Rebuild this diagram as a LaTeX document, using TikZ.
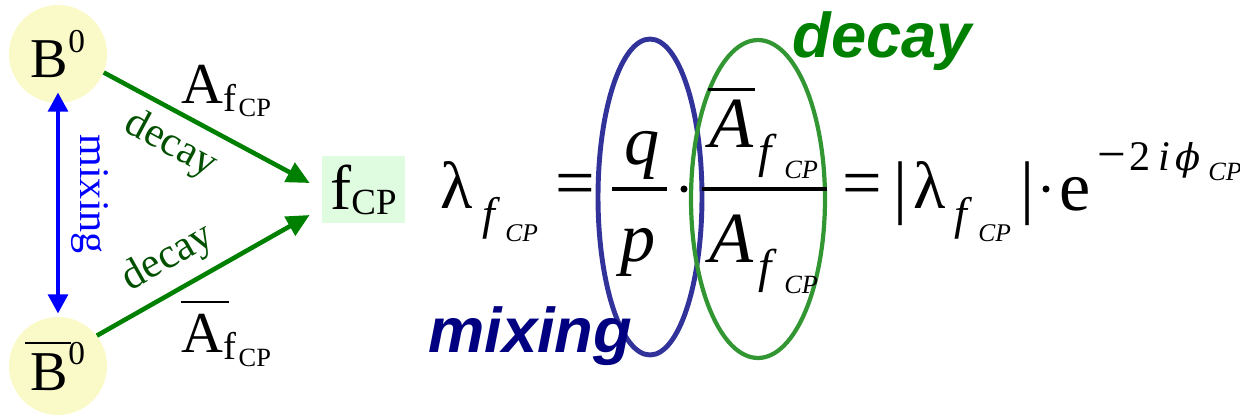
\documentclass[tikz,border=0pt]{standalone}
\usepackage{fontspec}
\setmainfont{Liberation Serif}
\newfontfamily\headfont{Liberation Sans}
\newfontfamily\phifont{DejaVu Serif}
\usetikzlibrary{arrows.meta,positioning}

\definecolor{stateyellow}{RGB}{250,250,200}
\definecolor{finalgreen}{RGB}{224,252,224}
\definecolor{arrowgreen}{RGB}{0,128,0}
\definecolor{labelgreen}{RGB}{0,80,0}
\definecolor{mixblue}{RGB}{0,0,255}
\definecolor{ringblue}{RGB}{50,50,155}
\definecolor{ringgreen}{RGB}{50,150,50}
\definecolor{headnavy}{RGB}{0,0,128}

\newcommand*{\fsz}[1]{\fontsize{#1}{#1}\selectfont}

\begin{document}
\begin{tikzpicture}[
  x=0.02cm, y=-0.02cm,
  state node/.style={circle, fill=stateyellow, minimum size=1.96cm, inner sep=0pt},
  final node/.style={fill=finalgreen, minimum width=1.66cm, minimum height=1.34cm, inner sep=0pt},
  decay arrow/.style={-{Triangle[length=13pt,width=12pt]}, line width=2.6pt, draw=arrowgreen},
  mix arrow/.style={{Triangle[length=11pt,width=11pt]}-{Triangle[length=11pt,width=11pt]},
    line width=2.8pt, draw=mixblue},
  path label/.style={sloped, text=labelgreen, font={\fsz{24pt}}, inner sep=6pt},
  eq/.style={anchor=base west, inner sep=0pt},
  frac bar/.style={line width=2pt},
  head/.style={eq, font={\headfont\bfseries\itshape\fsz{36pt}}},
]
  \useasboundingbox (0,0) rectangle (1240,417);

  % States and final state
  \node[state node] (b0) at (58,54) {\fsz{32pt}B\raisebox{14.5pt}{\fsz{19pt}0}};
  \node[state node] (b0bar) at (58,366)
    {\fsz{32pt}\makebox[0pt][l]{\hspace{-3.4pt}\rule[26.5pt]{26pt}{1.1pt}}B\raisebox{14.5pt}{\fsz{19pt}0}};
  \node[final node] (fcp) at (363.5,189.5) {\fsz{36pt}f\raisebox{-2.8pt}{\fsz{21pt}CP}};

  % Decay and mixing arrows
  \draw[decay arrow] (b0.-22) -- ([shift={(-12,-6.5)}]fcp.west)
    node[path label, below, pos=0.4] (decaytop) {decay};
  \draw[decay arrow] (b0bar.38) -- ([shift={(-12,25.5)}]fcp.west)
    node[path label, above, pos=0.41] (decaybot) {decay};
  \draw[mix arrow] ([yshift=0.22cm]b0.south) -- ([yshift=0.06cm]b0bar.north)
    node[pos=0.46, sloped, above, text=mixblue, font={\fsz{24pt}}, inner sep=6.5pt] (mixlabel) {mixing};

  % Amplitudes
  \node[eq] (amp) at (181,103)
    {\fsz{33pt}A\raisebox{-5.1pt}{\fsz{22pt}f\kern1.5pt\raisebox{-2.8pt}{\fsz{15pt}CP}}};
  \node[eq] (ampbar) at (181,352)
    {\fsz{33pt}\makebox[0pt][l]{\rule[28pt]{27pt}{0.9pt}}A\raisebox{-4.5pt}{\fsz{22pt}f\kern1.5pt\raisebox{-4pt}{\fsz{15pt}CP}}};

  % Rings round the two factors
  \draw[draw=ringblue, line width=2.8pt] (650,197) ellipse [x radius=1.04cm, y radius=3.16cm];
  \draw[draw=ringgreen, line width=2.4pt] (758,199) ellipse [x radius=1.34cm, y radius=3.18cm];

  % lambda_f = q/p . Abar/A
  \node[eq] (lamA) at (440,208) {\fsz{38pt}λ};
  \node[eq] (lamAf) at (482,229) {\fsz{26pt}\itshape f};
  \node[eq] (lamAcp) at (505,241) {\fsz{14.5pt}\itshape CP};
  \node[eq] (eqA) at (555,206) {\fsz{40pt}=};

  \node[eq] (qnum) at (624,164) {\fsz{40pt}\itshape q};
  \node[eq] (pden) at (620,261) {\fsz{40pt}\itshape p};
  \draw[frac bar] (612,189) -- (667,189);
  \fill (684,189) circle (2pt);

  \node[eq] (anum) at (709,147)
    {\fsz{41pt}\itshape\makebox[0pt][l]{\hspace{-0.5pt}\rule[32pt]{26.6pt}{1.7pt}}A};
  \node[eq] (anumf) at (758,167) {\fsz{27pt}\itshape f};
  \node[eq] (anumcp) at (784,178) {\fsz{15pt}\itshape CP};
  \node[eq] (aden) at (709,262) {\fsz{41pt}\itshape A};
  \node[eq] (adenf) at (758,282) {\fsz{27pt}\itshape f};
  \node[eq] (adencp) at (784,293) {\fsz{15pt}\itshape CP};
  \draw[frac bar] (702,189) -- (827,189);

  % = |lambda_f| . e^{-2i phi}
  \node[eq] (eqB) at (842,206) {\fsz{40pt}=};
  \node[eq] (barL) at (893,210) {\fsz{40pt}|};
  \node[eq] (lamB) at (913,208) {\fsz{38pt}λ};
  \node[eq] (lamBf) at (954,229) {\fsz{26pt}\itshape f};
  \node[eq] (lamBcp) at (978,241) {\fsz{14.5pt}\itshape CP};
  \node[eq] (barR) at (1020,210) {\fsz{40pt}|};
  \fill (1046,189) circle (2pt);
  \node[eq] (expe) at (1059,210) {\fsz{40pt}e};
  \node[eq] (expm) at (1097,171) {\fsz{29pt}−};
  \node[eq] (exptwo) at (1129,170) {\fsz{24pt}2};
  \node[eq] (expi) at (1158,170) {\fsz{24pt}\itshape i};
  \node[eq] (expphi) at (1175,170) {\phifont\fsz{21pt}\itshape ϕ};
  \node[eq] (expcp) at (1208,180) {\fsz{15pt}\itshape CP};

  % Headings
  \node[head, text=arrowgreen] (decayhead) at (792,57) {decay};
  \node[head, text=headnavy] (mixhead) at (428,352) {mixing};
\end{tikzpicture}
\end{document}
